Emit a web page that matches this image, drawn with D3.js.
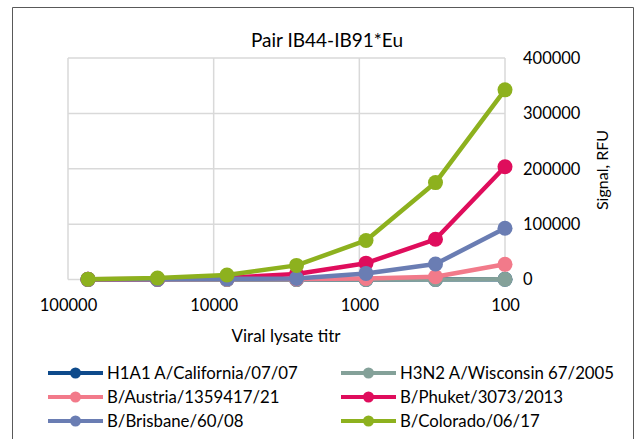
<!DOCTYPE html>
<html>
<head>
<meta charset="utf-8">
<script src="https://cdn.jsdelivr.net/npm/d3@7"></script>
<style>
  body { margin: 0; background: #fff; }
  text { font-family: Lato, "Open Sans", sans-serif; fill: #000; }
</style>
</head>
<body>
<svg id="canvas" width="638" height="439"></svg>
<script>
// dati
const titoli = [72900, 24300, 8100, 2700, 900, 300, 100];
const xTicks = [100000, 10000, 1000, 100];
const yTicks = [0, 100000, 200000, 300000, 400000];

const nomiSerie = [
  "H1A1 A/California/07/07",
  "H3N2 A/Wisconsin 67/2005",
  "B/Austria/1359417/21",
  "B/Phuket/3073/2013",
  "B/Brisbane/60/08",
  "B/Colorado/06/17"
];
const california = [100, 100, 100, 150, 200, 300, 400];
const wisconsin  = [0, 0, 0, 0, 100, 200, 300];
const austria    = [300, 500, 700, 1000, 1800, 5000, 27400];
const phuket     = [400, 1000, 3000, 10000, 29500, 72600, 203700];
const brisbane   = [300, 600, 1200, 2000, 11000, 28000, 92500];
const colorado   = [600, 2500, 8000, 25500, 70500, 175000, 342500];
const colori = ["#0E4A8B", "#84A199", "#F27A8A", "#DF0D5C", "#6A7DB3", "#8DB11E"];

const valoriSerie = [california, wisconsin, austria, phuket, brisbane, colorado];

const svg = d3.select("#canvas");

svg.append("rect").attr("width", 638).attr("height", 439).attr("fill", "#fff");

// cornice esterna (il fondo è tagliato)
svg.append("path")
  .attr("d", "M12.5,439 V7.5 H633.5 V439")
  .attr("fill", "none")
  .attr("stroke", "#595959")
  .attr("stroke-width", 1);

const sx = d3.scaleLog().domain([100000, 100]).range([68, 505]);
const sy = d3.scaleLinear().domain([0, 400000]).range([279.5, 58]);

// griglia
svg.append("g")
  .selectAll("line.h")
  .data(yTicks)
  .enter().append("line")
  .attr("x1", sx(100000)).attr("x2", sx(100))
  .attr("y1", d => sy(d)).attr("y2", d => sy(d))
  .attr("stroke", "#D9D9D9").attr("stroke-width", 1.5);

svg.append("g")
  .selectAll("line.v")
  .data(xTicks)
  .enter().append("line")
  .attr("x1", d => sx(d)).attr("x2", d => sx(d))
  .attr("y1", sy(0)).attr("y2", sy(400000))
  .attr("stroke", "#D9D9D9").attr("stroke-width", 1.5);

// assi
const asseX = svg.append("g")
  .attr("transform", `translate(0,${sy(0)})`)
  .call(d3.axisBottom(sx).tickValues(xTicks).tickFormat(d3.format("d")).tickSize(0).tickPadding(20));
asseX.select(".domain").remove();
asseX.selectAll("text").attr("font-size", 16.5).attr("font-family", "Lato");

const asseY = svg.append("g")
  .attr("transform", `translate(${sx(100)},0)`)
  .call(d3.axisRight(sy).tickValues(yTicks).tickFormat(d3.format("d")).tickSize(0).tickPadding(18));
asseY.select(".domain").remove();
asseY.selectAll("text").attr("font-size", 16.5).attr("font-family", "Lato");

// titoli
svg.append("text")
  .attr("x", 327).attr("y", 47)
  .attr("text-anchor", "middle")
  .attr("font-size", 19)
  .text("Pair IB44-IB91*Eu");

svg.append("text")
  .attr("x", 286).attr("y", 342)
  .attr("text-anchor", "middle")
  .attr("font-size", 17)
  .text("Viral lysate titr");

svg.append("text")
  .attr("transform", "translate(608,170) rotate(-90)")
  .attr("text-anchor", "middle")
  .attr("font-size", 16)
  .text("Signal, RFU");

// serie
const linea = d3.line()
  .x((d, i) => sx(titoli[i]))
  .y(d => sy(d));

valoriSerie.forEach((serie, k) => {
  const g = svg.append("g");
  g.append("path")
    .attr("d", linea(serie))
    .attr("fill", "none")
    .attr("stroke", colori[k])
    .attr("stroke-width", 4.5)
    .attr("stroke-linejoin", "round");
  g.selectAll("circle")
    .data(serie)
    .enter().append("circle")
    .attr("cx", (d, i) => sx(titoli[i]))
    .attr("cy", d => sy(d))
    .attr("r", 7.5)
    .attr("fill", colori[k]);
});

// legenda
const colX = [48, 341];
const rigaY = [373, 397, 421];
nomiSerie.forEach((nome, k) => {
  const x = colX[k % 2];
  const y = rigaY[Math.floor(k / 2)];
  const g = svg.append("g");
  g.append("line")
    .attr("x1", x).attr("x2", x + 55)
    .attr("y1", y).attr("y2", y)
    .attr("stroke", colori[k]).attr("stroke-width", 4);
  g.append("circle")
    .attr("cx", x + 27.5).attr("cy", y).attr("r", 5.5)
    .attr("fill", colori[k]);
  g.append("text")
    .attr("x", x + 59).attr("y", y)
    .attr("dy", "0.35em")
    .attr("font-size", 16.8)
    .text(nome);
});
</script>
</body>
</html>
